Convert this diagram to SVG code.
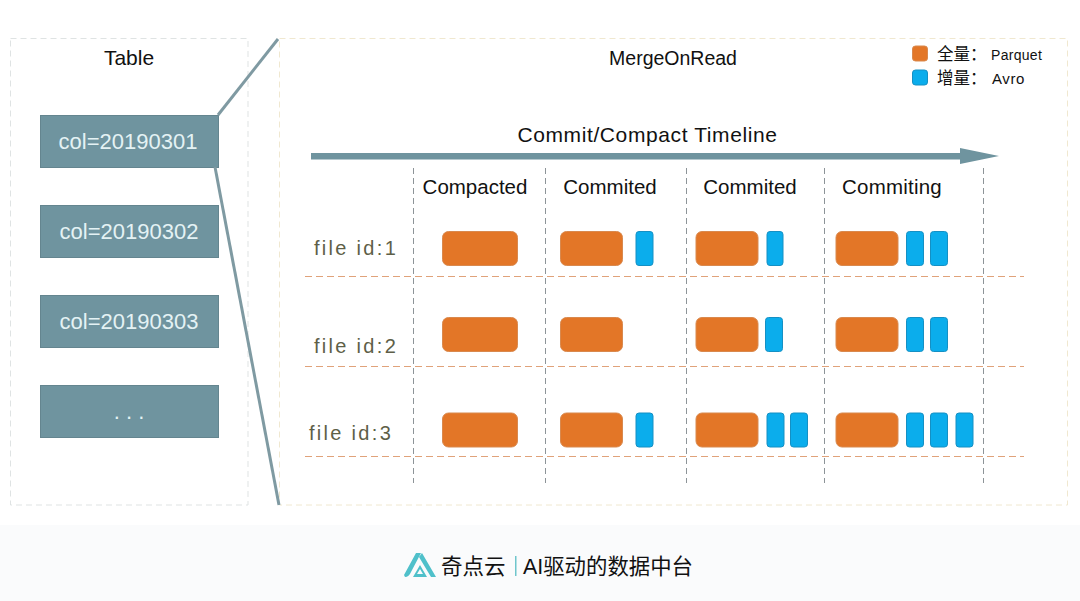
<svg xmlns="http://www.w3.org/2000/svg" width="1080" height="601" viewBox="0 0 1080 601">
<defs>
<style>
text{font-family:"Liberation Sans","Noto Sans CJK SC",sans-serif;fill:#111}
.panelA{fill:none;stroke:#dfe3e3;stroke-width:1;stroke-dasharray:6 4}
.panelB{fill:none;stroke:#f0e8d0;stroke-width:1;stroke-dasharray:6 4}
.col{fill:#6f949f;stroke:#64858f;stroke-width:1}
.colt{fill:#e4f2f4;font-size:22px;text-anchor:middle}
.p{fill:#e37627;stroke:#d9894e;stroke-width:1}
.a{fill:#0badec;stroke:#1590c4;stroke-width:1}
.h{font-size:20.500px;text-anchor:middle}
.f{font-size:20px;fill:#5e5f48;letter-spacing:2.300px}
.v{stroke:#8d9498;stroke-width:1;stroke-dasharray:6 4;fill:none}
.o{stroke:#e0a27a;stroke-width:1.2;stroke-dasharray:7 4;fill:none}
.z{stroke:#7f9aa2;stroke-width:3;fill:none}
</style>
</defs>
<rect width="1080" height="601" fill="#fff"/>
<rect x="0" y="525" width="1080" height="76" fill="#fafbfc"/>

<g id="table">
<rect class="panelA" x="10.5" y="38.5" width="237.500" height="466.500"/>
<text x="129" y="65" font-size="21" text-anchor="middle">Table</text>
</g>
<g id="col1"><rect class="col" x="40.500" y="115.500" width="178" height="52"/><text class="colt" x="128" y="149">col=20190301</text></g>
<g id="col2"><rect class="col" x="40.500" y="205.500" width="178" height="52"/><text class="colt" x="129" y="239">col=20190302</text></g>
<g id="col3"><rect class="col" x="40.500" y="295.500" width="178" height="52"/><text class="colt" x="129" y="329">col=20190303</text></g>
<g id="col4"><rect class="col" x="40.500" y="385.500" width="178" height="52"/><text class="colt" x="129" y="419">. . .</text></g>

<g id="merge-on-read">
<rect class="panelB" x="279.500" y="38.500" width="788" height="466.500"/>
<text x="673" y="65" font-size="19.500" text-anchor="middle">MergeOnRead</text>
</g>
<g id="legend">
<rect class="p" x="912.500" y="46" width="15" height="15" rx="3"/>
<text x="937" y="60" font-size="16.500" fill="#222">全量：</text>
<text x="991" y="60" font-size="14" fill="#222" letter-spacing=".3">Parquet</text>
<rect class="a" x="912.500" y="70" width="15" height="15" rx="3"/>
<text x="937" y="84" font-size="16.500" fill="#222">增量：</text>
<text x="992" y="84" font-size="15" fill="#222" letter-spacing=".6">Avro</text>
</g>
<g id="timeline">
<text x="647.500" y="142" font-size="21" text-anchor="middle" letter-spacing=".6">Commit/Compact  Timeline</text>
</g>

<g id="connectors">
<path class="z" d="M218 115L278 39"/>
<path class="z" d="M215 167L279 505"/>
<path fill="#6f949f" d="M311 153H960V148L999 156L960 164V159.500H311Z"/>
<path class="v" d="M413.500 168V483M545.500 168V483M686.500 168V483M824.500 168V483M983.500 168V483"/>
<path class="o" d="M305 276.500H1024M305 366.500H1024M305 456.500H1024"/>
</g>

<g id="headers">
<text class="h" x="475" y="194">Compacted</text>
<text class="h" x="610" y="194">Commited</text>
<text class="h" x="750" y="194">Commited</text>
<text class="h" x="892" y="194" letter-spacing=".2">Commiting</text>
</g>

<g id="file1">
<text class="f" x="314" y="255">file  id:1</text>
<rect class="p" x="442.500" y="231.500" width="75" height="34" rx="6"/>
<rect class="p" x="560.500" y="231.500" width="62" height="34" rx="6"/>
<rect class="a" x="636" y="231.500" width="17" height="34" rx="3"/>
<rect class="p" x="696" y="231.500" width="62" height="34" rx="6"/>
<rect class="a" x="767" y="231.500" width="16" height="34" rx="3"/>
<rect class="p" x="836" y="231.500" width="62" height="34" rx="6"/>
<rect class="a" x="906.500" y="231.500" width="17" height="34" rx="3"/>
<rect class="a" x="930.500" y="231.500" width="17" height="34" rx="3"/>
</g>
<g id="file2">
<text class="f" x="314" y="353">file  id:2</text>
<rect class="p" x="442.500" y="317.500" width="75" height="34" rx="6"/>
<rect class="p" x="560.500" y="317.500" width="62" height="34" rx="6"/>
<rect class="p" x="696" y="317.500" width="62" height="34" rx="6"/>
<rect class="a" x="765.500" y="317.500" width="17" height="34" rx="3"/>
<rect class="p" x="836" y="317.500" width="62" height="34" rx="6"/>
<rect class="a" x="906.500" y="317.500" width="17" height="34" rx="3"/>
<rect class="a" x="930.500" y="317.500" width="17" height="34" rx="3"/>
</g>
<g id="file3">
<text class="f" x="309" y="440">file  id:3</text>
<rect class="p" x="442.500" y="413" width="75" height="34" rx="6"/>
<rect class="p" x="560.500" y="413" width="62" height="34" rx="6"/>
<rect class="a" x="636" y="413" width="17" height="34" rx="3"/>
<rect class="p" x="696" y="413" width="62" height="34" rx="6"/>
<rect class="a" x="767" y="413" width="17" height="34" rx="3"/>
<rect class="a" x="790.500" y="413" width="17" height="34" rx="3"/>
<rect class="p" x="836" y="413" width="62" height="34" rx="6"/>
<rect class="a" x="906.500" y="413" width="17" height="34" rx="3"/>
<rect class="a" x="930.500" y="413" width="17" height="34" rx="3"/>
<rect class="a" x="956" y="413" width="17" height="34" rx="3"/>
</g>

<g id="footer">
<path fill="#4fc0ca" d="M404 575L416 553H421L411 572Q409 577 405 577ZM422 553L436 577H431L419 557ZM413 577L420 565L427 577ZM417 574H423L420 569Z" fill-rule="evenodd"/>
<text x="441" y="574" font-size="21.500" fill="#555">奇点云</text>
<rect x="515" y="556" width="1.500" height="20" fill="#6fc6cc"/>
<text x="523" y="574" font-size="21.400" fill="#222">AI驱动的数据中台</text>
</g>
</svg>
